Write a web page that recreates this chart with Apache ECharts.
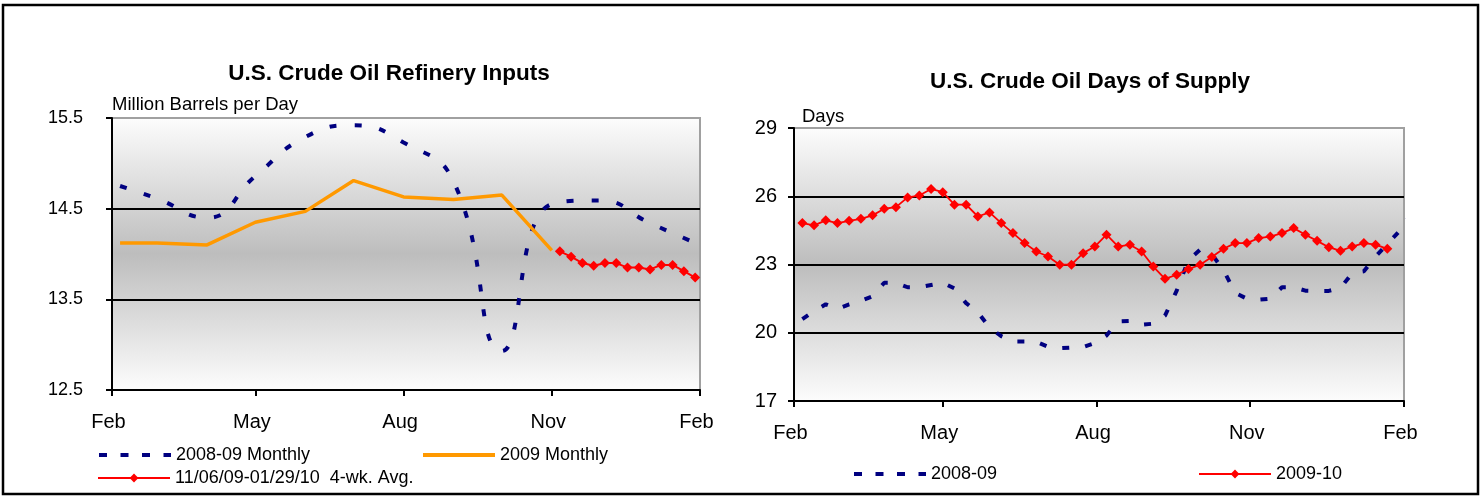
<!DOCTYPE html>
<html>
<head>
<meta charset="utf-8">
<title>U.S. Crude Oil Refinery Inputs / Days of Supply</title>
<script src="https://cdn.jsdelivr.net/npm/echarts@6/dist/echarts.min.js"></script>
<style>
  html, body { margin: 0; padding: 0; background: #fff; }
  #main { width: 1481px; height: 497px; }
</style>
</head>
<body>
<div id="main"></div>
<script>
// x positions are days counted from Feb 1
const tickDays = [0, 89, 181, 273, 365];
const tickLabels = ['Feb', 'May', 'Aug', 'Nov', 'Feb'];

// refinery inputs, million barrels per day
const monthDays = [5, 28, 59, 89, 120, 150, 181, 212, 242, 273, 303, 334, 365];
const inputs0809 = [14.75, 14.61, 14.40, 14.86, 15.29, 15.42, 15.23, 14.80, 12.93, 14.55, 14.59, 14.34, 14.10];
const inputs2009 = [14.12, 14.12, 14.10, 14.35, 14.47, 14.81, 14.63, 14.60, 14.65, 14.04];
const avgDays = [278, 285, 292, 299, 306, 313, 320, 327, 334, 341, 348, 355, 362];
const inputsAvg = [14.03, 13.97, 13.90, 13.87, 13.90, 13.90, 13.85, 13.85, 13.83, 13.88, 13.88, 13.81, 13.74];

// days of supply, weekly (first week ends Feb 6)
const firstWeekDay = 5;
const supply0809 = [
  20.6, 20.95, 21.25, 21.05, 21.25, 21.4, 21.6, 22.2, 22.2, 22.0, 22.0, 22.1, 22.2,
  21.95, 21.3, 20.9, 20.23, 19.85, 19.62, 19.62, 19.6, 19.38, 19.32, 19.35, 19.37, 19.55,
  19.88, 20.5, 20.52, 20.35, 20.4, 20.75, 21.85, 23.2, 23.65, 23.45, 22.75, 21.75, 21.5,
  21.45, 21.5, 22.0, 22.0, 21.85, 21.84, 21.84, 21.97, 22.62, 22.7, 23.35, 23.9, 24.45, 25.2
];
const supply0910 = [
  24.82, 24.72, 24.94, 24.82, 24.92, 25.01, 25.16, 25.45, 25.52, 25.95, 26.03, 26.32, 26.18,
  25.63, 25.63, 25.11, 25.29, 24.82, 24.38, 23.94, 23.57, 23.35, 22.99, 22.99, 23.50, 23.79, 24.31,
  23.79, 23.87, 23.57, 22.91, 22.37, 22.55, 22.80, 22.99, 23.33, 23.69, 23.94, 23.94, 24.16,
  24.23, 24.38, 24.60, 24.31, 24.04, 23.76, 23.60, 23.79, 23.94, 23.87, 23.69
];

const font = '"Liberation Sans", Arial, sans-serif';
const navy = '#000080';
const orange = '#ff9900';
const red = '#ff0000';

const pair = (days, vals) => vals.map((v, i) => [days[i], v]);
const weekly = (vals) => vals.map((v, i) => [firstWeekDay + i * 7, v]);

const myChart = echarts.init(document.getElementById('main'));

function plotBg() {
  return new echarts.graphic.LinearGradient(0, 0, 0, 1, [
    { offset: 0, color: '#fdfdfd' },
    { offset: 0.5, color: '#bdbdbd' },
    { offset: 1, color: '#fdfdfd' },
  ]);
}

function xAxisFor(gridIndex) {
  return {
    type: 'value',
    gridIndex,
    min: 0,
    max: 365,
    axisLine: { show: true, onZero: false, lineStyle: { color: '#000', width: 2 } },
    axisTick: { show: true, customValues: tickDays, length: 6, lineStyle: { color: '#000', width: 2 } },
    axisLabel: {
      customValues: tickDays,
      formatter: (v) => tickLabels[tickDays.indexOf(v)],
      margin: 22,
      padding: [0, 7, 0, 0],
      fontSize: 20,
      color: '#000',
      fontFamily: font,
    },
    splitLine: { show: false },
  };
}

function yAxisFor(gridIndex, min, max, interval, margin, size, fmt) {
  return {
    type: 'value',
    gridIndex,
    min,
    max,
    interval,
    axisLine: { show: true, onZero: false, lineStyle: { color: '#000', width: 2 } },
    axisTick: { show: true, length: 6, lineStyle: { color: '#000', width: 2 } },
    axisLabel: { margin, fontSize: size, color: '#000', fontFamily: font, formatter: fmt },
    splitLine: { show: true, showMinLine: false, showMaxLine: false, lineStyle: { color: '#000', width: 2 } },
  };
}

// plain lines have no marker, so the legend's symbol is hidden
function legendFor(name, left, top, plain, lineStyle) {
  const lg = {
    data: [name],
    left,
    top,
    itemWidth: 72,
    itemHeight: 11,
    selectedMode: false,
    textStyle: { fontSize: 18, color: '#000', fontFamily: font },
    lineStyle,
  };
  if (plain) lg.itemStyle = { opacity: 0 };
  return lg;
}

const dashIcon = { type: [8, 13.5], width: 4 };

const option = {
  animation: false,
  backgroundColor: '#fff',
  grid: [
    { left: 112, top: 118, width: 588, height: 272, show: true, backgroundColor: plotBg(), borderColor: '#a0a0a0', borderWidth: 2 },
    { left: 794, top: 128, width: 610, height: 273, show: true, backgroundColor: plotBg(), borderColor: '#a0a0a0', borderWidth: 2 },
  ],
  xAxis: [xAxisFor(0), xAxisFor(1)],
  yAxis: [
    yAxisFor(0, 12.5, 15.5, 1, 29, 18, (v) => v.toFixed(1)),
    yAxisFor(1, 17, 29, 3, 17, 20, (v) => String(v)),
  ],
  legend: [
    legendFor('2008-09 Monthly', 92, 441, true, dashIcon),
    legendFor('2009 Monthly', 416, 441, true, { width: 4 }),
    legendFor('11/06/09-01/29/10  4-wk. Avg.', 92, 464, false, { width: 2 }),
    legendFor('2008-09', 847, 460, true, dashIcon),
    legendFor('2009-10', 1193, 460, false, { width: 2 }),
  ],
  graphic: [
    { type: 'rect', shape: { x: 3, y: 5, width: 1475, height: 489 }, style: { fill: 'none', stroke: '#000', lineWidth: 2.5 } },
    { type: 'text', x: 389, y: 74, style: { text: 'U.S. Crude Oil Refinery Inputs', font: 'bold 22.5px ' + font, fill: '#000', align: 'center', verticalAlign: 'middle' } },
    { type: 'text', x: 1090, y: 82, style: { text: 'U.S. Crude Oil Days of Supply', font: 'bold 22.5px ' + font, fill: '#000', align: 'center', verticalAlign: 'middle' } },
    { type: 'text', x: 112, y: 105, style: { text: 'Million Barrels per Day', font: '18.5px ' + font, fill: '#000', align: 'left', verticalAlign: 'middle' } },
    { type: 'text', x: 802, y: 117, style: { text: 'Days', font: '18.5px ' + font, fill: '#000', align: 'left', verticalAlign: 'middle' } },
  ],
  series: [
    {
      name: '2008-09 Monthly',
      type: 'line',
      xAxisIndex: 0,
      yAxisIndex: 0,
      smooth: 0.5,
      symbol: 'none',
      lineStyle: { color: navy, width: 4, type: [7, 18] },
      itemStyle: { color: navy },
      data: pair(monthDays, inputs0809),
    },
    {
      name: '2009 Monthly',
      type: 'line',
      xAxisIndex: 0,
      yAxisIndex: 0,
      symbol: 'none',
      lineStyle: { color: orange, width: 3.5 },
      itemStyle: { color: orange },
      data: pair(monthDays, inputs2009),
    },
    {
      name: '11/06/09-01/29/10  4-wk. Avg.',
      type: 'line',
      xAxisIndex: 0,
      yAxisIndex: 0,
      symbol: 'diamond',
      symbolSize: 10,
      lineStyle: { color: red, width: 2 },
      itemStyle: { color: red },
      data: pair(avgDays, inputsAvg),
    },
    {
      name: '2008-09',
      type: 'line',
      xAxisIndex: 1,
      yAxisIndex: 1,
      symbol: 'none',
      lineStyle: { color: navy, width: 4, type: [7, 16] },
      itemStyle: { color: navy },
      data: weekly(supply0809),
    },
    {
      name: '2009-10',
      type: 'line',
      xAxisIndex: 1,
      yAxisIndex: 1,
      symbol: 'diamond',
      symbolSize: 10,
      lineStyle: { color: red, width: 1.8 },
      itemStyle: { color: red },
      data: weekly(supply0910),
    },
  ],
};

option && myChart.setOption(option);
</script>
</body>
</html>
